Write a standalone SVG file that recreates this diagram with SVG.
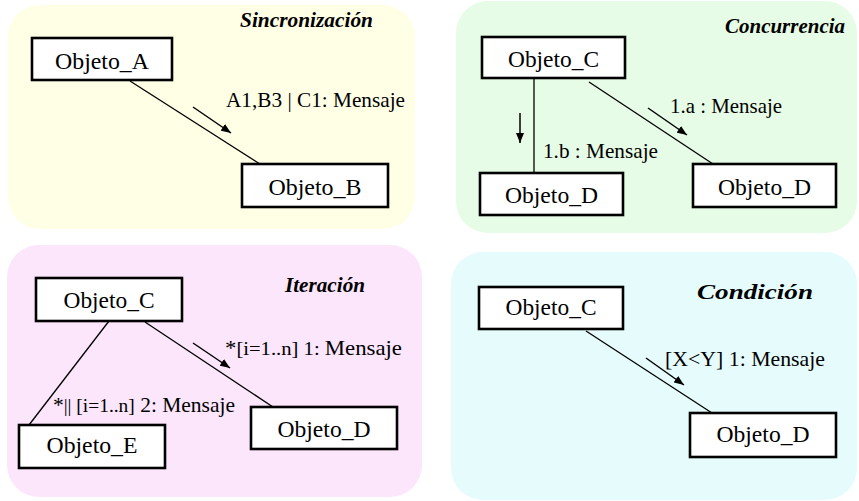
<svg xmlns="http://www.w3.org/2000/svg" width="859" height="501" viewBox="0 0 859 501">
  <defs>
    <marker id="head" markerUnits="userSpaceOnUse" markerWidth="10" markerHeight="8" refX="10" refY="4" orient="auto">
      <path d="M0,0 L10,4 L0,8 z" fill="#000"/>
    </marker>
    <style>
      .node rect { fill: #fff; stroke: #000; stroke-width: 2.6; }
      .link { stroke: #000; stroke-width: 1.3; fill: none; }
      .dir { stroke: #000; stroke-width: 1.5; fill: none; marker-end: url(#head); }
      text { font-family: "Liberation Serif", "Times New Roman", serif; fill: #000; }
      .msg { font-size: 21px; }
      .label { font-size: 23px; text-anchor: middle; }
      .title { font-size: 20px; font-weight: bold; font-style: italic; }
    </style>
  </defs>

  <rect width="859" height="501" fill="#fff"/>

  <!-- background panels -->
  <g id="panels">
    <rect x="8" y="5" width="407" height="224" rx="32" fill="#FFFFE6"/>
    <rect x="456" y="1" width="401" height="232" rx="32" fill="#E6FCE6"/>
    <rect x="7" y="245" width="415" height="252" rx="32" fill="#FCE6FC"/>
    <rect x="451" y="252" width="406" height="248" rx="32" fill="#E6FCFC"/>
  </g>

  <!-- panel titles -->
  <g id="titles">
    <text class="title" x="240" y="27" textLength="133" lengthAdjust="spacingAndGlyphs">Sincronización</text>
    <text class="title" x="725" y="33" textLength="120" lengthAdjust="spacingAndGlyphs">Concurrencia</text>
    <text class="title" x="285" y="292" textLength="80" lengthAdjust="spacingAndGlyphs">Iteración</text>
    <text class="title" x="697" y="299" textLength="116" lengthAdjust="spacingAndGlyphs">Condición</text>
  </g>

  <!-- links, message arrows and message labels -->
  <g id="connectors">
    <!-- sincronización -->
    <line class="link" x1="130" y1="81" x2="260" y2="164"/>
    <line class="dir" x1="193" y1="107" x2="231" y2="133"/>
    <text class="msg" x="226" y="107" textLength="179" lengthAdjust="spacingAndGlyphs">A1,B3 | C1: Mensaje</text>

    <!-- concurrencia -->
    <line class="link" x1="534" y1="78" x2="534" y2="173"/>
    <line class="link" x1="589" y1="82" x2="713" y2="164"/>
    <line class="dir" x1="520" y1="113" x2="520" y2="143"/>
    <line class="dir" x1="648" y1="108" x2="687" y2="135"/>
    <text class="msg" x="670" y="113" textLength="112" lengthAdjust="spacingAndGlyphs">1.a : Mensaje</text>
    <text class="msg" x="543" y="158" textLength="115" lengthAdjust="spacingAndGlyphs">1.b : Mensaje</text>

    <!-- iteración -->
    <line class="link" x1="109" y1="321" x2="29" y2="425"/>
    <line class="link" x1="145" y1="322" x2="273" y2="407"/>
    <line class="dir" x1="193" y1="343" x2="230" y2="368"/>
    <text class="msg" x="225" y="355" textLength="177" lengthAdjust="spacingAndGlyphs">*<tspan font-size="19">[i=1..n] 1: </tspan> Mensaje</text>
    <text class="msg" x="53" y="412" textLength="182" lengthAdjust="spacingAndGlyphs">*<tspan font-size="19">|| [i=1..n]</tspan> 2:  Mensaje</text>

    <!-- condición -->
    <line class="link" x1="586" y1="331" x2="712" y2="413"/>
    <line class="dir" x1="646" y1="358" x2="684" y2="385"/>
    <text class="msg" x="665" y="366" textLength="160" lengthAdjust="spacingAndGlyphs">[X&lt;Y] 1: Mensaje</text>
  </g>

  <!-- objects -->
  <g id="sinc-objeto-a" class="node">
    <rect x="32" y="38" width="140" height="42"/>
    <text class="label" x="102" y="69" textLength="94" lengthAdjust="spacingAndGlyphs">Objeto_A</text>
  </g>
  <g id="sinc-objeto-b" class="node">
    <rect x="242" y="164" width="146" height="43"/>
    <text class="label" x="315" y="195" textLength="93" lengthAdjust="spacingAndGlyphs">Objeto_B</text>
  </g>

  <g id="conc-objeto-c" class="node">
    <rect x="482" y="37" width="143" height="41"/>
    <text class="label" x="553.5" y="67" textLength="91" lengthAdjust="spacingAndGlyphs">Objeto_C</text>
  </g>
  <g id="conc-objeto-d1" class="node">
    <rect x="480" y="173" width="143" height="42"/>
    <text class="label" x="551.5" y="203" textLength="93" lengthAdjust="spacingAndGlyphs">Objeto_D</text>
  </g>
  <g id="conc-objeto-d2" class="node">
    <rect x="693" y="164" width="143" height="43"/>
    <text class="label" x="764.5" y="195" textLength="93" lengthAdjust="spacingAndGlyphs">Objeto_D</text>
  </g>

  <g id="iter-objeto-c" class="node">
    <rect x="36" y="278" width="146" height="43"/>
    <text class="label" x="109" y="308" textLength="91" lengthAdjust="spacingAndGlyphs">Objeto_C</text>
  </g>
  <g id="iter-objeto-e" class="node">
    <rect x="19" y="425" width="146" height="43"/>
    <text class="label" x="92" y="453" textLength="91" lengthAdjust="spacingAndGlyphs">Objeto_E</text>
  </g>
  <g id="iter-objeto-d" class="node">
    <rect x="251" y="407" width="146" height="42"/>
    <text class="label" x="324" y="437" textLength="93" lengthAdjust="spacingAndGlyphs">Objeto_D</text>
  </g>

  <g id="cond-objeto-c" class="node">
    <rect x="479" y="287" width="144" height="42"/>
    <text class="label" x="551" y="315" textLength="91" lengthAdjust="spacingAndGlyphs">Objeto_C</text>
  </g>
  <g id="cond-objeto-d" class="node">
    <rect x="690" y="413" width="146" height="44"/>
    <text class="label" x="763" y="442" textLength="93" lengthAdjust="spacingAndGlyphs">Objeto_D</text>
  </g>
</svg>
